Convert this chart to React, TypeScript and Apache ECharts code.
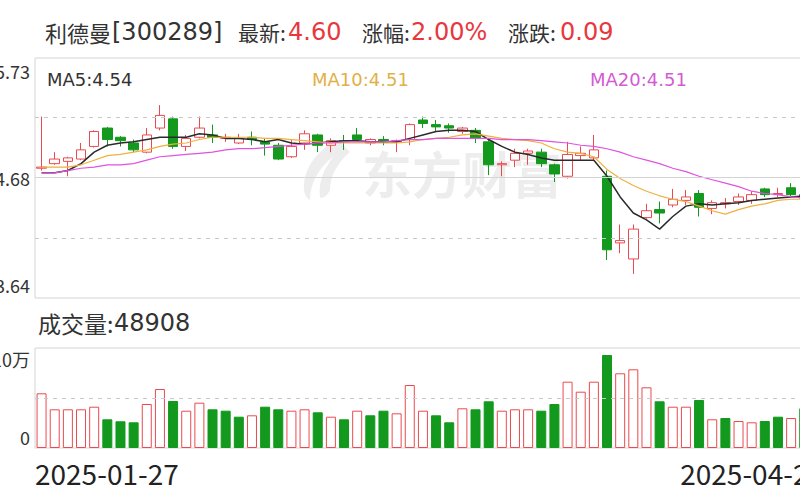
import React, { useEffect, useRef } from "react";
import * as echarts from "echarts";

const STOCK_NAME = "利德曼";
const STOCK_CODE = "300289";

const DATES = [
  "2025-01-27", "2025-02-05", "2025-02-06", "2025-02-07",
  "2025-02-10", "2025-02-11", "2025-02-12", "2025-02-13", "2025-02-14",
  "2025-02-17", "2025-02-18", "2025-02-19", "2025-02-20", "2025-02-21",
  "2025-02-24", "2025-02-25", "2025-02-26", "2025-02-27", "2025-02-28",
  "2025-03-03", "2025-03-04", "2025-03-05", "2025-03-06", "2025-03-07",
  "2025-03-10", "2025-03-11", "2025-03-12", "2025-03-13", "2025-03-14",
  "2025-03-17", "2025-03-18", "2025-03-19", "2025-03-20", "2025-03-21",
  "2025-03-24", "2025-03-25", "2025-03-26", "2025-03-27", "2025-03-28",
  "2025-03-31", "2025-04-01", "2025-04-02", "2025-04-03",
  "2025-04-07", "2025-04-08", "2025-04-09", "2025-04-10", "2025-04-11",
  "2025-04-14", "2025-04-15", "2025-04-16", "2025-04-17", "2025-04-18",
  "2025-04-21", "2025-04-22", "2025-04-23", "2025-04-24", "2025-04-25",
  "2025-04-28", "2025-04-29",
];

const OPEN = [
  4.77, 4.81, 4.83, 4.85, 4.96, 5.12, 5.04, 4.99, 4.91, 5.12,
  5.20, 4.96, 5.04, 5.06, 5.03, 4.99, 5.04, 5.00, 4.97, 4.87,
  4.99, 5.06, 4.97, 5.01, 5.06, 4.99, 5.02, 5.00, 5.02, 5.19,
  5.15, 5.14, 5.09, 5.10, 5.00, 4.80, 4.84, 4.90, 4.91, 4.80,
  4.70, 4.88, 4.86, 4.70, 4.12, 3.98, 4.34, 4.41, 4.45, 4.49,
  4.55, 4.42, 4.46, 4.48, 4.49, 4.59, 4.54, 4.60, 4.54, 4.52,
];
const CLOSE = [
  4.78, 4.85, 4.86, 4.93, 5.09, 5.02, 5.01, 4.93, 5.06, 5.23,
  4.96, 5.03, 5.12, 5.04, 5.04, 5.03, 5.02, 4.98, 4.85, 4.96,
  5.07, 4.97, 5.01, 5.00, 5.02, 5.02, 5.00, 5.01, 5.15, 5.16,
  5.13, 5.12, 5.12, 5.03, 4.80, 4.81, 4.90, 4.92, 4.81, 4.72,
  4.89, 4.90, 4.93, 4.06, 4.14, 4.24, 4.40, 4.38, 4.50, 4.52,
  4.43, 4.47, 4.47, 4.52, 4.54, 4.54, 4.55, 4.54, 4.51, 4.60,
];
const LOW = [
  4.75, 4.80, 4.70, 4.84, 4.95, 4.96, 4.96, 4.91, 4.90, 5.10,
  4.94, 4.92, 5.03, 4.99, 5.00, 4.98, 4.97, 4.88, 4.84, 4.86,
  4.93, 4.91, 4.91, 4.93, 5.01, 4.97, 4.97, 4.91, 4.97, 5.12,
  5.09, 5.08, 5.07, 4.99, 4.71, 4.70, 4.78, 4.80, 4.78, 4.65,
  4.68, 4.84, 4.84, 3.97, 4.03, 3.85, 4.33, 4.29, 4.43, 4.45,
  4.35, 4.37, 4.42, 4.45, 4.46, 4.52, 4.52, 4.52, 4.49, 4.50,
];
const HIGH = [
  5.22, 4.91, 4.87, 4.99, 5.10, 5.13, 5.05, 5.02, 5.12, 5.32,
  5.22, 5.06, 5.22, 5.15, 5.07, 5.07, 5.09, 5.03, 4.99, 5.02,
  5.10, 5.07, 5.03, 5.06, 5.12, 5.03, 5.05, 5.02, 5.16, 5.22,
  5.19, 5.16, 5.13, 5.12, 5.02, 4.83, 4.94, 4.94, 4.94, 4.81,
  5.00, 4.96, 5.06, 4.75, 4.28, 4.28, 4.46, 4.48, 4.59, 4.58,
  4.58, 4.49, 4.51, 4.55, 4.57, 4.60, 4.60, 4.64, 4.56, 4.62,
];

const MA5 = [
  4.73, 4.73, 4.75, 4.81, 4.91, 4.97, 4.99, 5.00, 5.02, 5.04,
  5.04, 5.04, 5.07, 5.06, 5.03, 5.03, 5.02, 5.00, 5.02, 4.99,
  4.98, 4.99, 5.00, 5.01, 5.01, 5.00, 5.00, 5.00, 5.03, 5.06,
  5.09, 5.10, 5.10, 5.09, 5.02, 4.96, 4.91, 4.89, 4.86, 4.84,
  4.84, 4.84, 4.84, 4.70, 4.52, 4.38, 4.32, 4.24, 4.35, 4.44,
  4.46, 4.45, 4.46, 4.47, 4.49, 4.50, 4.51, 4.52, 4.53, 4.54,
];
const MA10 = [
  4.78, 4.78, 4.78, 4.80, 4.84, 4.88, 4.89, 4.91, 4.93, 4.96,
  4.98, 4.99, 5.02, 5.04, 5.04, 5.04, 5.04, 5.03, 5.03, 5.02,
  5.01, 5.00, 4.99, 4.99, 4.99, 4.99, 4.99, 4.99, 5.00, 5.02,
  5.03, 5.04, 5.06, 5.07, 5.05, 5.03, 5.02, 5.01, 4.99, 4.94,
  4.91, 4.90, 4.87, 4.76, 4.68, 4.62, 4.57, 4.53, 4.50, 4.48,
  4.44, 4.40, 4.37, 4.41, 4.44, 4.46, 4.49, 4.50, 4.50, 4.51,
];
const MA20 = [
  4.73, 4.73, 4.75, 4.77, 4.78, 4.80, 4.80, 4.81, 4.84, 4.87,
  4.88, 4.89, 4.90, 4.91, 4.93, 4.94, 4.94, 4.95, 4.96, 4.97,
  4.98, 4.99, 4.99, 5.00, 5.00, 5.00, 5.00, 5.01, 5.02, 5.02,
  5.03, 5.03, 5.03, 5.03, 5.03, 5.02, 5.02, 5.02, 5.01, 5.00,
  4.99, 4.97, 4.96, 4.94, 4.91, 4.87, 4.84, 4.81, 4.77, 4.74,
  4.70, 4.67, 4.64, 4.61, 4.57, 4.55, 4.54, 4.52, 4.51, 4.51,
];

const VOLUME = [
  54700, 38700, 38700, 38700, 41300, 28700, 26700, 25700, 44000, 59000,
  47000, 37300, 45300, 38700, 37300, 31300, 32700, 41300, 38700, 37300,
  38700, 35700, 31300, 28700, 37300, 32700, 37300, 34700, 63000, 37300,
  32700, 25700, 39700, 38700, 46700, 37300, 38700, 38700, 37300, 44000,
  66300, 56300, 66300, 93000, 74700, 78700, 60700, 46700, 41300, 41300,
  48000, 28700, 30000, 27000, 25700, 27000, 31300, 30000, 39700, 48908,
];
// 1 = rising day (red hollow bar), 0 = falling day (green solid bar)
const VOLUME_UP = [
  1, 1, 1, 1, 1, 0, 0, 0, 1, 1,
  0, 1, 1, 0, 0, 0, 1, 0, 0, 1,
  1, 0, 1, 0, 1, 0, 0, 1, 1, 1,
  0, 0, 1, 0, 0, 1, 1, 1, 0, 0,
  1, 1, 1, 0, 1, 1, 1, 0, 1, 1,
  0, 1, 0, 1, 1, 0, 0, 1, 0, 1,
];

const PRICE_MIN = 3.64;
const PRICE_MAX = 5.73;
const PRICE_TICKS = [3.64, 4.685, 5.73];
const PRICE_TICK_LABELS = ["3.64", "4.68", "5.73"];
const VOLUME_MAX = 100000;
const VOLUME_TICKS = [0, 100000];
const VOLUME_TICK_LABELS = ["0", "10万"];

const OFFSET = 12; // the drawing extends a little past the window's left edge
const CANVAS_W = 850;
const FONT = '"Microsoft YaHei", "Noto Sans CJK SC", sans-serif';
const NUM_FONT = '"DejaVu Sans", "Noto Sans CJK SC", sans-serif';
const RED = "#ea4a4f";
const TEXT_RED = "#e8383d";
const GREEN = "#13991d";
const GRID_LINE = "#d4d4d4";
const TEXT = "#333333";

const px = (x: number) => x + OFFSET;

function labelFor(ticks: number[], labels: string[]) {
  return (v: number) => {
    let best = 0;
    for (let i = 1; i < ticks.length; i++) {
      if (Math.abs(ticks[i] - v) < Math.abs(ticks[best] - v)) best = i;
    }
    return labels[best];
  };
}

let logoRegistered = false;
function registerLogo() {
  if (logoRegistered) return;
  const d =
    "M38 0 C20 8 6 24 4 44 C3 52 6 58 10 60 C10 44 18 28 34 16 C24 28 18 42 20 58 C24 58 28 55 30 50 C30 36 38 22 50 12 C46 8 42 4 38 0 Z";
  echarts.graphic.registerShape("emLogo", echarts.graphic.extendPath(d as any, {}) as any);
  logoRegistered = true;
}

export default function App() {
  const ref = useRef<HTMLDivElement>(null);

  useEffect(() => {
    if (!ref.current) return;
    registerLogo();
    const chart = echarts.init(ref.current, undefined, { renderer: "svg" });

    const n = DATES.length;
    const candles = DATES.map((_, i) => [OPEN[i], CLOSE[i], LOW[i], HIGH[i]]);
    const last = CLOSE[n - 1];
    const prev = CLOSE[n - 2];
    const change = last - prev;
    const pct = (change / prev) * 100;

    const volumeData = VOLUME.map((v, i) => ({
      value: v,
      itemStyle: VOLUME_UP[i]
        ? { color: "#ffffff", borderColor: RED, borderWidth: 1 }
        : { color: GREEN, borderColor: GREEN, borderWidth: 1 },
    }));

    const dash = { type: [4, 5] as any, color: "#c8c8c8", width: 1 };
    const q = (PRICE_MAX - PRICE_MIN) / 4;

    const t = (x: number, y: number, text: string, fill: string, size: number, family: string = FONT) => ({
      type: "text",
      x: px(x),
      y,
      silent: true,
      style: { text, fill, fontSize: size, fontFamily: family, verticalAlign: "middle", align: "left" },
    });

    const yLabel = {
      fontSize: 18, color: TEXT, margin: 5, fontFamily: FONT,
      padding: [4, 0, 4, 0],
      verticalAlignMinLabel: "bottom", verticalAlignMaxLabel: "top",
    };

    const option: any = {
      animation: false,
      backgroundColor: "#ffffff",
      textStyle: { fontFamily: FONT },
      grid: [
        { left: px(35), top: 58, width: 789, height: 240, show: true, borderColor: GRID_LINE, borderWidth: 1, backgroundColor: "transparent" },
        { left: px(35), top: 348, width: 789, height: 100, show: true, borderColor: GRID_LINE, borderWidth: 1, backgroundColor: "transparent" },
      ],
      xAxis: [
        {
          type: "category", gridIndex: 0, data: DATES, boundaryGap: true,
          axisLine: { show: false }, axisTick: { show: false }, axisLabel: { show: false }, splitLine: { show: false },
        },
        {
          type: "category", gridIndex: 1, data: DATES, boundaryGap: true,
          axisLine: { show: false }, axisTick: { show: false }, axisLabel: { show: false }, splitLine: { show: false },
        },
        {
          type: "category", gridIndex: 1, data: DATES, boundaryGap: false, position: "bottom",
          axisLine: { show: false }, axisTick: { show: false }, splitLine: { show: false },
          axisLabel: {
            show: true,
            interval: (i: number) => i === 0 || i === n - 1,
            alignMinLabel: "left",
            alignMaxLabel: "right",
            fontSize: 28,
            color: "#222",
            margin: 11,
            fontFamily: FONT,
            hideOverlap: false,
          },
        },
      ],
      yAxis: [
        {
          type: "value", gridIndex: 0, min: PRICE_MIN, max: PRICE_MAX,
          axisLine: { show: false }, axisTick: { show: false }, splitLine: { show: false },
          axisLabel: { ...yLabel, customValues: PRICE_TICKS, formatter: labelFor(PRICE_TICKS, PRICE_TICK_LABELS) },
        },
        {
          type: "value", gridIndex: 1, min: 0, max: VOLUME_MAX,
          axisLine: { show: false }, axisTick: { show: false }, splitLine: { show: false },
          axisLabel: { ...yLabel, padding: [2, 0, 2, 0], customValues: VOLUME_TICKS, formatter: labelFor(VOLUME_TICKS, VOLUME_TICK_LABELS) },
        },
      ],
      series: [
        {
          name: "K",
          type: "candlestick",
          xAxisIndex: 0, yAxisIndex: 0,
          data: candles,
          barWidth: 10,
          itemStyle: { color: "#ffffff", color0: GREEN, borderColor: RED, borderColor0: GREEN, borderWidth: 1 },
          markLine: {
            silent: true, symbol: ["none", "none"], label: { show: false }, animation: false,
            data: [
              { yAxis: PRICE_MIN + 2 * q, lineStyle: { type: "solid", color: GRID_LINE, width: 1 } },
              { yAxis: PRICE_MIN + 3 * q, lineStyle: dash },
              { yAxis: PRICE_MIN + q, lineStyle: dash },
            ],
          },
        },
        { name: "MA5", type: "line", xAxisIndex: 0, yAxisIndex: 0, data: MA5, symbol: "none", lineStyle: { color: "#2b2b2b", width: 1.5 } },
        { name: "MA10", type: "line", xAxisIndex: 0, yAxisIndex: 0, data: MA10, symbol: "none", lineStyle: { color: "#f0b03c", width: 1.2 } },
        { name: "MA20", type: "line", xAxisIndex: 0, yAxisIndex: 0, data: MA20, symbol: "none", lineStyle: { color: "#e052e0", width: 1.2 } },
        {
          name: "VOL",
          type: "bar",
          xAxisIndex: 1, yAxisIndex: 1,
          data: volumeData,
          barWidth: 10,
          markLine: {
            silent: true, symbol: ["none", "none"], label: { show: false }, animation: false,
            data: [{ yAxis: VOLUME_MAX / 2, lineStyle: dash }],
          },
        },
      ],
      graphic: [
        {
          type: "emLogo", x: px(300), y: 140, scaleX: 1.0, scaleY: 1.0, silent: true, z: 0,
          style: { fill: "rgba(0,0,0,0.07)" },
        },
        {
          type: "text", x: px(362), y: 172, silent: true, z: 0,
          style: { text: "东方财富", fill: "rgba(0,0,0,0.07)", fontSize: 50, fontWeight: "bold", fontFamily: FONT, verticalAlign: "middle" },
        },
        t(45, 32, STOCK_NAME, TEXT, 22),
        t(112, 32, `[${STOCK_CODE}]`, TEXT, 24, NUM_FONT),
        t(238, 32, "最新:", TEXT, 21),
        t(288, 32, last.toFixed(2), TEXT_RED, 24, NUM_FONT),
        t(362, 32, "涨幅:", TEXT, 21),
        t(411, 32, `${pct.toFixed(2)}%`, TEXT_RED, 24, NUM_FONT),
        t(508, 32, "涨跌:", TEXT, 21),
        t(560, 32, change.toFixed(2), TEXT_RED, 24, NUM_FONT),
        t(47, 79, `MA5:${MA5[n - 1].toFixed(2)}`, TEXT, 18, NUM_FONT),
        t(312, 79, `MA10:${MA10[n - 1].toFixed(2)}`, "#e3b046", 18, NUM_FONT),
        t(590, 79, `MA20:${MA20[n - 1].toFixed(2)}`, "#d35bd3", 18, NUM_FONT),
        t(38, 323, "成交量:", TEXT, 23),
        t(114, 323, `${VOLUME[n - 1]}`, TEXT, 24, NUM_FONT),
      ],
    };

    chart.setOption(option);
    return () => chart.dispose();
  }, []);

  return (
    <div style={{ position: "fixed", left: 0, top: 0, width: 800, height: 500, overflow: "hidden", background: "#fff" }}>
      <div ref={ref} style={{ position: "absolute", left: -OFFSET, top: 0, width: CANVAS_W, height: 500 }} />
    </div>
  );
}
